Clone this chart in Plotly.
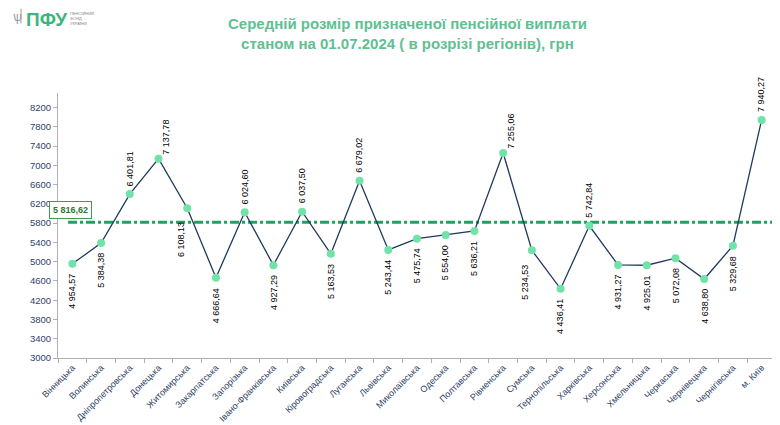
import plotly.graph_objects as go

regions = ["Вінницька", "Волинська", "Дніпропетровська", "Донецька", "Житомирська",
           "Закарпатська", "Запорізька", "Івано-Франківська", "Київська", "Кіровоградська",
           "Луганська", "Львівська", "Миколаївська", "Одеська", "Полтавська", "Рівненська",
           "Сумська", "Тернопільська", "Харківська", "Херсонська", "Хмельницька",
           "Черкаська", "Чернівецька", "Чернігівська", "м. Київ"]
values = [4954.57, 5384.38, 6401.81, 7137.78, 6108.13, 4666.64, 6024.60, 4927.29,
          6037.50, 5163.53, 6679.02, 5243.44, 5475.74, 5554.00, 5636.21, 7255.06,
          5234.53, 4436.41, 5742.84, 4931.27, 4925.01, 5072.08, 4638.80, 5329.68, 7940.27]
average = 5816.62
y_ticks = list(range(3000, 8201, 400))

# label placement style: a = above, b = below, bl = below-left, r = right of point (top)
label_side = ["b", "b", "a", "r", "bl", "b", "a", "b", "a", "b", "a", "b", "b", "b", "b",
              "r", "bl", "b", "a", "b", "b", "b", "b", "b", "a"]

FONT = "Liberation Sans, Arial, sans-serif"
NAVY = "#2f3f66"


def fmt(v):
    s = f"{v:,.2f}"
    return s.replace(",", " ").replace(".", ",")


fig = go.Figure()
fig.add_trace(go.Scatter(
    x=regions, y=values, mode="lines+markers",
    line=dict(color="#1f3a5c", width=1.3),
    marker=dict(size=8, color="#72e3a8", line=dict(width=0)),
    hoverinfo="skip", showlegend=False,
))

annotations = []
for r, v, side in zip(regions, values, label_side):
    a = dict(x=r, y=v, xref="x", yref="y", text=fmt(v), showarrow=False,
             textangle=-90, font=dict(family=FONT, size=9, color="#000000"))
    if side == "a":
        a.update(yanchor="bottom", yshift=6)
    elif side == "r":
        a.update(yanchor="bottom", xanchor="left", yshift=2, xshift=1)
    elif side == "bl":
        a.update(yanchor="top", yshift=-12, xshift=-7)
    else:
        a.update(yanchor="top", yshift=-8)
    annotations.append(a)

annotations.append(dict(
    x=-0.07, y=average, xref="x", yref="y", text="<b>" + fmt(average) + "</b>",
    showarrow=False, yanchor="bottom", yshift=3,
    font=dict(family=FONT, size=9, color="#2b7a34"),
    bgcolor="white", bordercolor="#3f9a55", borderwidth=1, borderpad=3,
))

annotations.append(dict(
    x=0.487, y=1.226, xref="paper", yref="paper",
    text="<b>Середній розмір призначеної пенсійної виплати<br>станом на 01.07.2024 ( в розрізі регіонів), грн</b>",
    showarrow=False, xanchor="center", yanchor="middle",
    font=dict(family=FONT, size=15, color="#5fc092"),
))

# logo
annotations.append(dict(
    x=-0.047, y=1.326, xref="paper", yref="paper", text="<b>ПФУ</b>", showarrow=False,
    xanchor="left", yanchor="top", font=dict(family=FONT, size=19, color="#3db57c"),
))
annotations.append(dict(
    x=0.0135, y=1.318, xref="paper", yref="paper",
    text="ПЕНСІЙНИЙ<br>ФОНД<br>УКРАЇНИ", showarrow=False, align="left",
    xanchor="left", yanchor="top", font=dict(family=FONT, size=4, color="#888888"),
))
annotations.append(dict(
    x=-0.066, y=1.326, xref="paper", yref="paper", text="ѱ", showarrow=False,
    xanchor="left", yanchor="top", font=dict(family=FONT, size=13, color="#9aa0a8"),
))

shapes = [
    dict(type="line", xref="x", yref="y", x0=-0.15, x1=24.6, y0=average, y1=average,
         line=dict(color="#22a060", width=3, dash="dashdot"), layer="below"),
    dict(type="line", xref="paper", yref="paper", x0=-0.0515, x1=-0.0515, y0=1.262, y1=1.318,
         line=dict(color="#cfcfcf", width=2)),
]

# page body adds an 8 px offset; figure is sized so the plot area lands on the reference
fig.update_layout(
    width=772, height=417,
    margin=dict(l=50, r=4, t=85, b=67),
    paper_bgcolor="white", plot_bgcolor="white",
    font=dict(family=FONT, color=NAVY),
    annotations=annotations, shapes=shapes,
    showlegend=False,
)
fig.update_xaxes(
    type="category", tickson="boundaries", tickangle=-45, automargin=False,
    showline=True, linecolor="#b0b0b0", linewidth=1,
    ticks="outside", ticklen=4, tickcolor="#b0b0b0",
    showgrid=False, tickfont=dict(family=FONT, size=9, color=NAVY),
    range=[-0.5, 24.5],
)
fig.update_yaxes(
    range=[3000, 8500], tickvals=y_ticks, ticktext=[str(t) for t in y_ticks],
    automargin=False,
    showline=True, linecolor="#b0b0b0", linewidth=1,
    ticks="outside", ticklen=4, tickcolor="#b0b0b0",
    showgrid=False, zeroline=False, tickfont=dict(family=FONT, size=9.5, color=NAVY),
)

fig.write_html("out.html")
